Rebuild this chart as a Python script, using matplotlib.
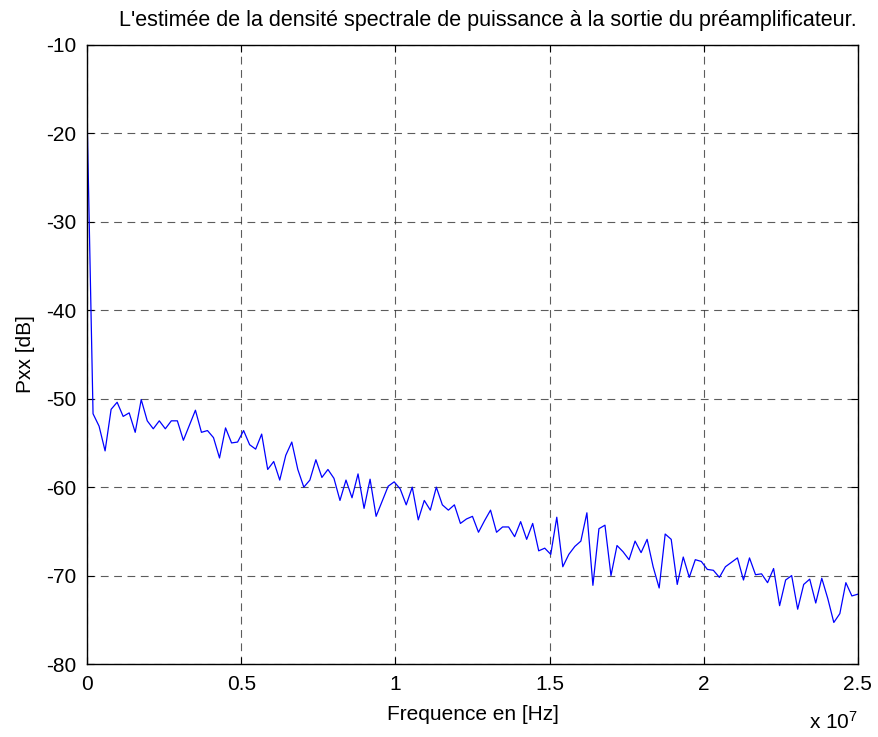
import numpy as np
import matplotlib
matplotlib.use("Agg")
import matplotlib.pyplot as plt

plt.rcParams["font.family"] = ["Liberation Sans", "DejaVu Sans"]
plt.rcParams["mathtext.default"] = "regular"
plt.rcParams["axes.unicode_minus"] = False

# PSD estimate (dB) at the preamplifier output, one value per FFT bin
pxx_db = [
    -17.6, -51.7, -53.1, -55.9, -51.2, -50.4, -52.0, -51.6, -53.8, -50.1,
    -52.5, -53.4, -52.5, -53.4, -52.5, -52.5, -54.7, -53.0, -51.3, -53.8,
    -53.6, -54.4, -56.7, -53.3, -55.0, -54.9, -53.6, -55.2, -55.7, -54.0,
    -58.0, -57.1, -59.2, -56.4, -54.9, -58.0, -60.0, -59.2, -56.9, -58.9,
    -58.0, -59.0, -61.5, -59.2, -61.2, -58.5, -62.4, -59.1, -63.3, -61.6,
    -59.9, -59.4, -60.2, -62.0, -60.0, -63.7, -61.5, -62.6, -60.0, -62.0,
    -62.6, -62.0, -64.1, -63.6, -63.3, -65.1, -63.8, -62.6, -65.1, -64.5,
    -64.5, -65.6, -63.9, -65.9, -64.1, -67.2, -66.9, -67.6, -63.4, -69.0,
    -67.6, -66.7, -66.1, -62.9, -71.1, -64.7, -64.3, -70.0, -66.6, -67.3,
    -68.2, -66.1, -67.4, -65.9, -69.0, -71.4, -65.3, -65.9, -71.0, -67.9,
    -70.2, -68.2, -68.4, -69.3, -69.4, -70.2, -69.0, -68.5, -68.0, -70.5,
    -68.0, -69.9, -69.8, -70.8, -69.2, -73.4, -70.5, -70.0, -73.8, -71.0,
    -70.4, -73.1, -70.3, -72.6, -75.3, -74.3, -70.8, -72.3, -72.1,
]
freq_step = 25e6 / 128  # Hz per bin (fs = 50 MHz, nfft = 256)
freq = np.arange(len(pxx_db)) * freq_step

x_ticks = [0, 0.5e7, 1e7, 1.5e7, 2e7, 2.5e7]
x_tick_labels = ["0", "0.5", "1", "1.5", "2", "2.5"]
y_ticks = [-80, -70, -60, -50, -40, -30, -20, -10]

fig = plt.figure(figsize=(8.79, 7.37), dpi=100)
ax = fig.add_axes([0.099, 0.099, 0.877, 0.840])

ax.plot(freq, pxx_db, color="#0000ff", linewidth=0.9)

ax.set_xlim(0, 2.5e7)
ax.set_ylim(-80, -10)
ax.set_xticks(x_ticks)
ax.set_xticklabels(x_tick_labels)
ax.set_yticks(y_ticks)
ax.tick_params(direction="in", top=True, right=True, labelsize=15, length=5, pad=8)

ax.grid(True, color="#333333", linestyle=(0, (7, 5)), linewidth=0.8, alpha=0.8)
for s in ax.spines.values():
    s.set_linewidth(1.0)

ax.set_title("L'estimée de la densité spectrale de puissance à la sortie du préamplificateur.",
             fontsize=15.5, pad=14, x=0.52)
ax.set_xlabel("Frequence en [Hz]", fontsize=15, labelpad=8)
ax.set_ylabel("Pxx [dB]", fontsize=15, labelpad=8)
ax.text(1.0, -0.094, r"x 10$^7$", transform=ax.transAxes, ha="right", va="center",
        fontsize=15)

fig.savefig("out.png", dpi=100)
